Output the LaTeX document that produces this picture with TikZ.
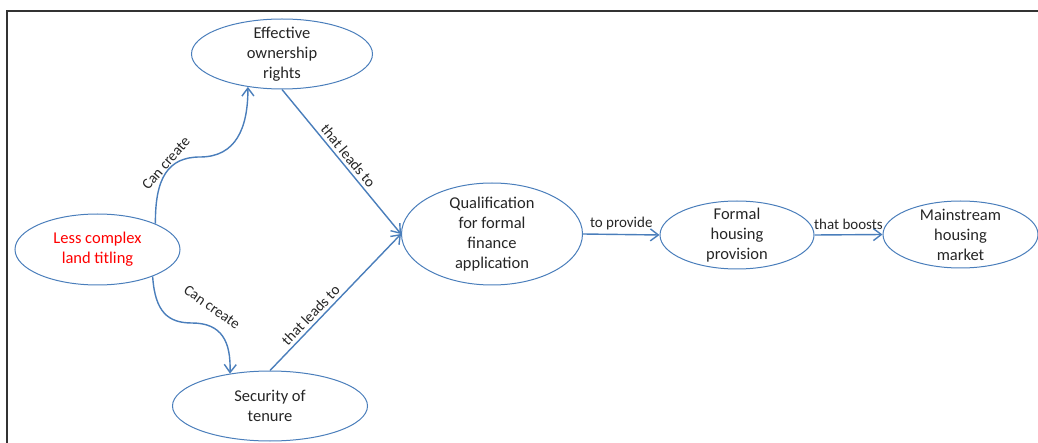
\documentclass[tikz,border=0pt]{standalone}
\usepackage{fontspec}
\setmainfont{Carlito}
\usetikzlibrary{shapes.geometric,arrows.meta}
\definecolor{lineblue}{HTML}{4A7EBB}
\definecolor{txt}{HTML}{262626}
\begin{document}
\begin{tikzpicture}[x=1pt,y=-1pt,
  el/.style={ellipse,draw=lineblue,line width=1pt,inner sep=0pt},
  eltext/.style={align=center,text=txt,font=\fontsize{16.5}{20}\selectfont,inner sep=0pt},
  conn/.style={draw=lineblue,line width=1.4pt,-{Straight Barb[length=8pt,width=12pt,line width=1.4pt]}},
  lbl/.style={text=txt,font=\fontsize{15}{18}\selectfont,inner sep=1pt}]
\useasboundingbox (0,0) rectangle (1038,443);
\draw[line width=2pt,color=black!80] (1038,11) -- (7,11) -- (7,443);

\node[el,minimum width=181,minimum height=70] (eff) at (282,54) {};
\node[eltext] (efft) at (eff) {Effective\\ownership\\rights};
\node[el,minimum width=165,minimum height=71] (lct) at (97.5,249.5) {};
\node[eltext,text=red] (lctt) at (lct) {Less complex\\land titling};
\node[el,minimum width=195,minimum height=70] (sec) at (270,406) {};
\node[eltext] (sect) at (sec) {Security of\\tenure};
\node[el,minimum width=181,minimum height=102] (qual) at (492,234) {};
\node[eltext] (qualt) at (qual) {Qualification\\for formal\\finance\\application};
\node[el,minimum width=154,minimum height=68] (fhp) at (737,235) {};
\node[eltext] (fhpt) at (fhp) {Formal\\housing\\provision};
\node[el,minimum width=155,minimum height=67] (msm) at (960.5,234.5) {};
\node[eltext] (msmt) at (msm) {Mainstream\\housing\\market};

\draw[conn] (lct.24) .. controls (155,178) and (168,157) .. (200,157) .. controls (236,157) and (248,128) .. (eff.224);
\node[lbl,rotate=49] (l1) at (166,163) {Can create};
\draw[conn] (lct.-26) .. controls (155,312) and (168,323) .. (192,323) .. controls (222,323) and (231,342) .. (sec.141);
\node[lbl,rotate=-35] (l2) at (212,307) {Can create};

\draw[conn] (eff.south) -- (qual.west) node[lbl,midway,sloped,above=2pt] (l3) {that leads to};
\draw[conn] (sec.north) -- (qual.west) node[lbl,pos=0.36,sloped,above=2pt] (l4) {that leads to};
\draw[conn] (qual.east) -- (fhp.west) node[lbl,midway,above=3pt] (l5) {to provide};
\draw[conn] (fhp.east) -- (msm.west) node[lbl,midway,above=3pt] (l6) {that boosts};
\end{tikzpicture}
\end{document}
